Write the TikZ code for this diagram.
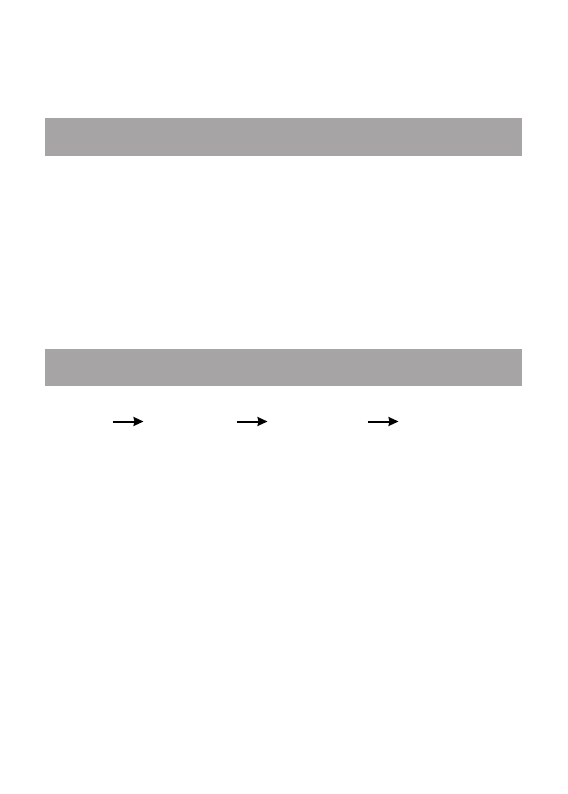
\documentclass[tikz,border=0pt]{standalone}
\usetikzlibrary{arrows.meta}
\definecolor{bargray}{RGB}{166,164,165}
\begin{document}
\begin{tikzpicture}[x=1pt,y=-1pt,
  bar/.style={fill=bargray,draw=none,inner sep=0pt,minimum width=477pt,minimum height=37.5pt},
  flow/.style={line width=2pt,-{Stealth[length=10pt,width=9pt,inset=1pt]}}]
\useasboundingbox (0,0) rectangle (567,794);
\node[bar] (bar1) at (283.5,137) {};
\node[bar] (bar2) at (283.5,367.5) {};
\coordinate (a1s) at (112.5,421.5);
\coordinate (a1e) at (143.5,421.5);
\coordinate (a2s) at (236.5,421.5);
\coordinate (a2e) at (267.5,421.5);
\coordinate (a3s) at (367.5,421.5);
\coordinate (a3e) at (398.5,421.5);
\draw[flow] (a1s) -- (a1e);
\draw[flow] (a2s) -- (a2e);
\draw[flow] (a3s) -- (a3e);
\end{tikzpicture}
\end{document}
